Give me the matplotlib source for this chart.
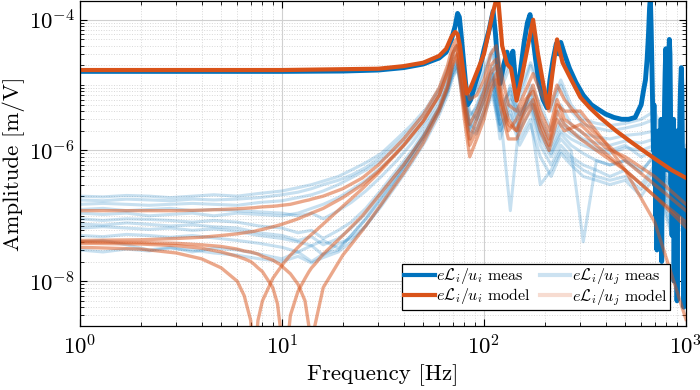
import numpy as np
import matplotlib
matplotlib.use("Agg")
import matplotlib.pyplot as plt
from matplotlib.lines import Line2D
from matplotlib.ticker import LogLocator, NullFormatter

plt.rcParams['font.family'] = 'serif'
plt.rcParams['font.serif'] = ['cmr10']
plt.rcParams['mathtext.fontset'] = 'cm'
plt.rcParams['axes.formatter.use_mathtext'] = True

BLUE = '#0072BD'
ORANGE = '#D95319'

# ---------------- data ----------------
# diagonal measured FRF  eL_i/u_i
diag_meas_f = [1, 2, 5, 10, 20, 30, 40, 50, 60, 65, 69, 72, 74, 75.5, 77, 79, 81, 83, 86, 90,
               95, 100, 106, 111, 114, 117, 120, 125, 130, 134, 139, 143, 147, 152, 158, 164,
               169, 174, 180, 188, 196, 205, 212, 220, 228, 234, 240, 250, 265, 285, 310, 340,
               370, 400, 440, 480, 520, 560, 600, 615, 630, 642, 652, 660, 666, 672, 678, 684,
               690, 694, 698, 703, 708, 713, 718, 723, 728, 733, 738, 743, 748, 753, 758, 763,
               768, 773, 778, 783, 788, 794, 800, 805, 810, 815, 820, 827, 833, 838, 843, 848,
               853, 858, 863, 868, 873, 878, 883, 888, 893, 898, 903, 908, 913, 918, 923, 928,
               933, 940, 948, 955, 960, 965, 970, 975, 980, 985, 990, 995, 1000]
diag_meas_a = [1.62e-5, 1.62e-5, 1.62e-5, 1.62e-5, 1.64e-5, 1.7e-5, 1.85e-5, 2.1e-5, 2.6e-5, 3.2e-5,
               5e-5, 8e-5, 1.25e-4, 1.1e-4, 6e-5, 2.5e-5, 1.1e-5, 5e-6, 6e-6, 1.0e-5,
               1.7e-5, 3.5e-5, 7e-5, 1.35e-4, 6e-5, 2e-5, 1.05e-5, 2e-5, 3.2e-5, 2e-5, 3.3e-5, 1.2e-5,
               8e-6, 1.8e-5, 4.5e-5, 9e-5, 1.2e-4, 6e-5, 2.5e-5, 1e-5, 6e-6, 4.5e-6, 1.2e-5,
               2.5e-5, 4.3e-5, 3e-5, 4.5e-5, 3e-5, 1.8e-5, 1.1e-5, 7e-6, 5e-6, 4.2e-6, 3.6e-6,
               3.2e-6, 3.0e-6, 3.0e-6, 3.2e-6, 5e-6, 8e-6, 1.2e-5, 2.5e-5, 6e-5, 1.5e-4, 2.2e-4,
               8e-5, 2e-5, 4e-6, 1e-6, 5e-6, 3e-7, 2e-6, 1e-7, 8e-7, 3e-8, 6e-7, 1e-7, 2e-6,
               4e-8, 1e-6, 2e-7, 3e-6, 2e-8, 7e-7, 1.5e-7, 2e-6, 5e-7, 5e-6, 1.5e-5, 3.6e-5,
               1.5e-5, 2e-6, 5e-7, 4e-6, 2e-5, 5e-5, 3e-5, 5e-6, 3e-7, 2e-6, 5e-8, 1e-6, 3e-7,
               3e-6, 1e-8, 5e-7, 2e-7, 2e-6, 1e-7, 5e-7, 5e-9, 4e-7, 1e-7, 2e-6, 3e-7, 1e-6,
               4e-6, 1e-5, 1.85e-5, 8e-6, 1e-6, 1e-7, 5e-7, 4e-9, 3e-7, 1e-6, 5e-8, 4e-7, 2e-7]

# diagonal model FRF
diag_model_f = [1, 10, 30, 40, 50, 60, 65, 69, 72, 74, 76, 79, 82, 85, 88, 95, 100, 105, 110,
                117, 123, 130, 136, 145, 155, 165, 175, 185, 197, 208, 218, 230, 245, 267, 300,
                334, 375, 450, 547, 700, 850, 1000]
diag_model_a = [1.7e-5, 1.7e-5, 1.78e-5, 1.95e-5, 2.2e-5, 2.8e-5, 3.6e-5, 5.5e-5, 6.5e-5, 6e-5,
                4e-5, 1.6e-5, 7.4e-6, 8.5e-6, 1.1e-5, 2e-5, 3e-5, 6e-5, 1.2e-4, 2.5e-4, 4e-5,
                2.1e-5, 1.8e-5, 5.8e-6, 1.5e-5, 4e-5, 1.0e-4, 3e-5, 1e-5, 4.5e-6, 1.5e-5, 5e-5,
                2.2e-5, 1.3e-5, 6.5e-6, 4.5e-6, 3.2e-6, 2e-6, 1.28e-6, 7.5e-7, 5e-7, 3.8e-7]

# off-diagonal measured FRFs eL_i/u_j (common frequency vector)
off_meas_f = [1, 1.3, 1.7, 2.2, 2.8, 3.6, 4.6, 6, 7.7, 10, 12, 14, 16, 19, 22, 26, 31, 37, 44, 52,
              60, 66, 70, 74, 79, 85, 92, 100, 110, 120, 135, 150, 170, 190, 215, 240, 270, 310,
              360, 420, 500, 600, 700, 850, 1000]
off_meas_1 = [1.75e-7, 1.7e-7, 1.8e-7, 1.75e-7, 1.7e-7, 1.8e-7, 1.75e-7, 1.8e-7, 1.9e-7, 2.1e-7,
              2.3e-7, 2.6e-7, 3.0e-7, 3.5e-7, 4.2e-7, 5.5e-7, 8e-7, 1.3e-6, 2.2e-6, 4e-6,
              8e-6, 1.6e-5, 3e-5, 4e-5, 1.5e-5, 6e-6, 8e-6, 1.5e-5, 3e-5, 8e-6, 2e-5, 6e-6,
              2e-5, 8e-6, 4e-6, 1e-5, 4e-6, 2.5e-6, 2.2e-6, 2e-6, 2.2e-6, 2.5e-6, 3e-6, 6e-7, 1e-6]
off_meas_2 = [1.5e-7, 1.55e-7, 1.5e-7, 1.45e-7, 1.5e-7, 1.55e-7, 1.5e-7, 1.45e-7, 1.6e-7, 1.7e-7,
              1.9e-7, 2.1e-7, 2.4e-7, 3.0e-7, 3.8e-7, 5e-7, 7e-7, 1.1e-6, 1.9e-6, 3.5e-6,
              7e-6, 1.3e-5, 2.5e-5, 3e-5, 1.2e-5, 4e-6, 3e-6, 6e-6, 1.5e-5, 5e-6, 8e-6, 2e-6,
              1e-5, 5e-6, 2e-6, 5e-6, 2.5e-6, 1.8e-6, 1.6e-6, 1.5e-6, 1.7e-6, 1.8e-6, 2e-6, 3e-7, 5e-7]
off_meas_3 = [1.1e-7, 1.05e-7, 1.1e-7, 1.0e-7, 1.05e-7, 1.1e-7, 1.0e-7, 1.1e-7, 1.05e-7, 1.0e-7,
              1.1e-7, 1.3e-7, 1.5e-7, 1.9e-7, 2.5e-7, 3.5e-7, 5.5e-7, 9e-7, 1.6e-6, 3e-6,
              6e-6, 1.1e-5, 2e-5, 2.5e-5, 8e-6, 3e-6, 5e-6, 1e-5, 2e-5, 4e-6, 1.2e-7, 3e-6,
              8e-6, 3e-6, 1.5e-6, 3e-6, 2e-6, 1.5e-6, 1.3e-6, 1.2e-6, 1.4e-6, 1.3e-6, 1.5e-6, 2e-7, 3e-7]
off_meas_4 = [9e-8, 8.5e-8, 9e-8, 8.8e-8, 8.5e-8, 8e-8, 8.5e-8, 8e-8, 7e-8, 6.5e-8,
              5.5e-8, 6e-8, 4.5e-8, 6e-8, 8e-8, 1.3e-7, 2.5e-7, 5e-7, 1e-6, 2.2e-6,
              4.5e-6, 9e-6, 1.8e-5, 2.2e-5, 7e-6, 2.5e-6, 4e-6, 8e-6, 1.5e-5, 3e-6, 1e-5, 4e-6,
              6e-6, 2e-6, 1e-6, 2e-6, 1.5e-6, 1.2e-6, 1e-6, 9e-7, 1.1e-6, 1e-6, 1.2e-6, 1.5e-7, 2e-7]
off_meas_5 = [6.5e-8, 6.8e-8, 6.5e-8, 6.2e-8, 6.5e-8, 6e-8, 6.3e-8, 5.8e-8, 5e-8, 4.5e-8,
              4e-8, 3.5e-8, 4.2e-8, 3.2e-8, 5e-8, 9e-8, 1.8e-7, 3.8e-7, 8e-7, 1.8e-6,
              4e-6, 8e-6, 1.5e-5, 2e-5, 6e-6, 2e-6, 3e-6, 6e-6, 1.2e-5, 2e-6, 6e-6, 3e-6,
              5e-6, 1.5e-6, 8e-7, 1.5e-6, 1e-6, 4e-8, 7e-7, 6e-7, 7e-7, 5e-7, 8e-7, 1e-7, 1.5e-7]
off_meas_6 = [5e-8, 4.8e-8, 5.2e-8, 5e-8, 4.7e-8, 5e-8, 4.6e-8, 4.2e-8, 3.8e-8, 3.3e-8,
              2.8e-8, 3.5e-8, 2.5e-8, 3.8e-8, 4.5e-8, 7e-8, 1.4e-7, 3e-7, 6.5e-7, 1.5e-6,
              3.5e-6, 7e-6, 1.3e-5, 1.8e-5, 5e-6, 1.5e-6, 2.5e-6, 5e-6, 1e-5, 1.5e-6, 5e-6, 2e-6,
              4e-6, 1.2e-6, 6e-7, 1.2e-6, 8e-7, 6e-7, 5e-7, 4e-7, 5e-7, 3e-7, 6e-7, 8e-8, 1e-7]
off_meas_7 = [4e-8, 4.2e-8, 3.6e-8, 3e-8, 3.3e-8, 2.8e-8, 3.2e-8, 3e-8, 2.6e-8, 2.2e-8,
              2.8e-8, 2e-8, 2.6e-8, 3e-8, 5e-8, 9e-8, 1.9e-7, 4e-7, 9e-7, 2e-6,
              4.5e-6, 9e-6, 1.6e-5, 2e-5, 7e-6, 2.5e-6, 2e-6, 4e-6, 8e-6, 2.5e-6, 4e-6, 1.5e-6,
              3e-6, 3e-7, 5e-7, 1e-6, 7e-7, 5e-7, 4e-7, 3.5e-7, 4e-7, 2.5e-7, 5e-7, 6e-8, 8e-8]
off_meas_8 = [3e-8, 2.8e-8, 3.1e-8, 2.9e-8, 3.2e-8, 3e-8, 2.7e-8, 2.5e-8, 2.2e-8, 2e-8,
              2.4e-8, 1.9e-8, 2.3e-8, 2.8e-8, 4e-8, 7e-8, 1.5e-7, 3.5e-7, 8e-7, 1.8e-6,
              4e-6, 8e-6, 1.4e-5, 1.8e-5, 6e-6, 2e-6, 1.8e-6, 3.5e-6, 7e-6, 2e-6, 3.5e-6, 1.2e-6,
              2.5e-6, 8e-7, 4e-7, 9e-7, 6e-7, 4e-7, 3.5e-7, 3e-7, 3.5e-7, 2e-7, 4e-7, 5e-8, 7e-8]
off_meas_9 = [2e-7, 1.95e-7, 2.05e-7, 2e-7, 1.9e-7, 2e-7, 2.1e-7, 2e-7, 2.2e-7, 2.4e-7,
              2.7e-7, 3e-7, 3.4e-7, 4e-7, 5e-7, 6.5e-7, 9e-7, 1.5e-6, 2.5e-6, 4.5e-6,
              9e-6, 1.8e-5, 3.2e-5, 4.2e-5, 1.6e-5, 7e-6, 9e-6, 1.8e-5, 3.5e-5, 1e-5, 2.5e-5, 8e-6,
              2.2e-5, 1e-5, 5e-6, 1.2e-5, 5e-6, 3e-6, 2.6e-6, 2.4e-6, 2.6e-6, 3e-6, 4e-6, 8e-7, 1.2e-6]
off_meas_10 = [1.25e-7, 1.3e-7, 1.2e-7, 1.25e-7, 1.3e-7, 1.2e-7, 1.25e-7, 1.2e-7, 1.15e-7, 1.1e-7,
               1e-7, 1.1e-7, 9e-8, 1.2e-7, 1.6e-7, 2.4e-7, 4e-7, 7e-7, 1.3e-6, 2.6e-6,
               5e-6, 1e-5, 1.9e-5, 2.4e-5, 9e-6, 3.5e-6, 4.5e-6, 9e-6, 1.8e-5, 3.5e-6, 9e-6, 3.5e-6,
               7e-6, 2.5e-6, 1.2e-6, 2.5e-6, 1.8e-6, 1.4e-6, 1.1e-6, 1e-6, 1.2e-6, 8e-7, 1e-6, 2.5e-7, 4e-7]
off_meas_11 = [7.5e-8, 7.2e-8, 7.8e-8, 7.4e-8, 7e-8, 7.3e-8, 6.8e-8, 6.5e-8, 5.5e-8, 5e-8,
               4.2e-8, 4.8e-8, 3.6e-8, 4.5e-8, 6.5e-8, 1.1e-7, 2.2e-7, 4.5e-7, 9e-7, 2e-6,
               4.2e-6, 8.5e-6, 1.7e-5, 2.1e-5, 6.5e-6, 2.2e-6, 3.5e-6, 7e-6, 1.3e-5, 2.5e-6, 7e-6, 3.5e-6,
               5.5e-6, 1.8e-6, 9e-7, 1.8e-6, 1.2e-6, 9e-7, 7e-7, 6e-7, 7e-7, 4.5e-7, 9e-7, 1.2e-7, 1.8e-7]

# off-diagonal model FRFs (common frequency vector)
off_model_f = [1, 2, 3, 4, 5, 6, 6.5, 7, 7.3, 7.6, 8, 9, 9.5, 9.8, 10.2, 11, 12, 13, 13.6, 14,
               14.5, 16, 20, 25, 30, 40, 50, 60, 66, 70, 73, 76, 80, 85, 92, 100, 108, 115, 122,
               132, 145, 160, 175, 190, 210, 230, 250, 300, 400, 500, 700, 1000]
off_model_1 = [1.2e-7, 1.2e-7, 1.2e-7, 1.22e-7, 1.25e-7, 1.28e-7, 1.3e-7, 1.32e-7, 1.33e-7, 1.35e-7,
               1.37e-7, 1.4e-7, 1.42e-7, 1.44e-7, 1.46e-7, 1.5e-7, 1.6e-7, 1.7e-7, 1.75e-7, 1.8e-7,
               1.85e-7, 2.0e-7, 2.6e-7, 3.8e-7, 6e-7, 1.5e-6, 3.5e-6, 9e-6, 2e-5, 4e-5, 5e-5, 3e-5,
               1.2e-5, 6e-6, 7e-6, 1.2e-5, 3e-5, 4e-5, 1.5e-5, 5e-6, 4e-6, 8e-6, 1.5e-5, 8e-6,
               4e-6, 1e-5, 6e-6, 3e-6, 1.3e-6, 7e-7, 3e-7, 1.2e-7]
off_model_2 = [4.2e-8, 4.3e-8, 4.5e-8, 4.7e-8, 5e-8, 5.3e-8, 5.5e-8, 5.7e-8, 5.8e-8, 6e-8,
               6.2e-8, 6.8e-8, 7.1e-8, 7.3e-8, 7.6e-8, 8.2e-8, 9e-8, 1e-7, 1.05e-7, 1.1e-7,
               1.15e-7, 1.3e-7, 1.9e-7, 3e-7, 4.8e-7, 1.2e-6, 2.8e-6, 7e-6, 1.6e-5, 3e-5, 4e-5, 2e-5,
               6e-6, 2.5e-6, 4e-6, 8e-6, 2e-5, 2.5e-5, 8e-6, 3e-6, 2e-6, 5e-6, 1e-5, 4e-6,
               2e-6, 6e-6, 3e-6, 2e-6, 9e-7, 5e-7, 2e-7, 6.7e-8]
off_model_3 = [3.3e-8, 3.1e-8, 2.7e-8, 2.2e-8, 1.6e-8, 1e-8, 6e-9, 2.5e-9, 5e-10, 2.5e-9,
               5e-9, 1.1e-8, 1.4e-8, 1.6e-8, 1.9e-8, 2.5e-8, 3.3e-8, 4.2e-8, 4.8e-8, 5.2e-8,
               5.7e-8, 7.5e-8, 1.4e-7, 2.6e-7, 4.5e-7, 1.2e-6, 2.8e-6, 7e-6, 1.5e-5, 3e-5, 4e-5, 2e-5,
               5e-6, 1.5e-6, 3e-6, 6e-6, 1.5e-5, 2e-5, 6e-6, 2e-6, 3e-6, 6e-6, 8e-6, 3e-6,
               1.5e-6, 5e-6, 4e-6, 4e-6, 1.3e-6, 5e-7, 8e-8, 2.6e-9]
off_model_4 = [3.8e-8, 3.7e-8, 3.5e-8, 3.2e-8, 2.8e-8, 2.4e-8, 2.2e-8, 2e-8, 1.8e-8, 1.6e-8,
               1.4e-8, 8e-9, 4.5e-9, 2e-9, 3e-10, 3e-9, 7e-9, 1.1e-8, 1.4e-8, 1.6e-8,
               1.8e-8, 2.6e-8, 5e-8, 1e-7, 2e-7, 6e-7, 1.6e-6, 4.5e-6, 1e-5, 2.2e-5, 3e-5, 1.5e-5,
               4e-6, 1.2e-6, 2e-6, 4e-6, 1e-5, 1.5e-5, 5e-6, 2.5e-6, 2e-6, 4e-6, 6e-6, 2.5e-6,
               1.2e-6, 4e-6, 2.5e-6, 1.5e-6, 8e-7, 5e-7, 2e-7, 8e-8]
off_model_5 = [4e-8, 3.9e-8, 3.8e-8, 3.6e-8, 3.4e-8, 3.1e-8, 2.9e-8, 2.8e-8, 2.7e-8, 2.6e-8,
               2.4e-8, 2.1e-8, 1.9e-8, 1.8e-8, 1.6e-8, 1.3e-8, 9e-9, 5e-9, 2e-9, 3e-10,
               2e-9, 8e-9, 2.5e-8, 6e-8, 1.3e-7, 4.5e-7, 1.3e-6, 4e-6, 9e-6, 2e-5, 2.8e-5, 1.2e-5,
               3e-6, 8e-7, 1.5e-6, 3e-6, 8e-6, 1.2e-5, 4e-6, 1.5e-6, 1.5e-6, 3e-6, 5e-6, 2e-6,
               1e-6, 3e-6, 2e-6, 2.5e-6, 1.1e-6, 8e-7, 4e-7, 1.5e-7]

y_major_ticks = [1e-8, 1e-6, 1e-4]
legend_labels = [r'$e\mathcal{L}_i/u_i$ meas', r'$e\mathcal{L}_i/u_i$ model',
                 r'$e\mathcal{L}_i/u_j$ meas', r'$e\mathcal{L}_i/u_j$ model']

# ---------------- figure ----------------
fig = plt.figure(figsize=(7.0, 3.9), dpi=100)
ax = fig.add_axes([0.1143, 0.164, 0.8657, 0.834])

for a in [off_meas_1, off_meas_2, off_meas_3, off_meas_4, off_meas_5, off_meas_6, off_meas_7,
          off_meas_8, off_meas_9, off_meas_10, off_meas_11]:
    ax.plot(off_meas_f, a, color=BLUE, alpha=0.22, lw=2.2)
ax.plot(diag_meas_f, diag_meas_a, color=BLUE, lw=3.5)
for a in [off_model_1, off_model_2, off_model_3, off_model_4, off_model_5]:
    ax.plot(off_model_f, a, color=ORANGE, alpha=0.5, lw=2.4)
ax.plot(diag_model_f, diag_model_a, color=ORANGE, lw=3.0)

ax.set_xscale('log')
ax.set_yscale('log')
ax.set_xlim(1, 1000)
ax.set_ylim(2.06e-9, 1.95e-4)
ax.set_yticks(y_major_ticks)
ax.yaxis.set_minor_locator(LogLocator(base=10, subs=np.arange(1, 10), numticks=50))
ax.yaxis.set_minor_formatter(NullFormatter())
ax.xaxis.set_minor_locator(LogLocator(base=10, subs=np.arange(2, 10), numticks=50))
ax.xaxis.set_minor_formatter(NullFormatter())

ax.grid(True, which='major', color='#d0d0d0', lw=0.8, ls='-')
ax.grid(True, which='minor', color='#d8d8d8', lw=0.7, ls=':')
ax.set_axisbelow(True)
ax.tick_params(which='both', direction='in', top=True, right=True, labelsize=16.5)
ax.tick_params(which='major', length=5, width=0.8)
ax.tick_params(which='minor', length=3, width=0.6)
ax.tick_params(axis='x', pad=6)
for s in ax.spines.values():
    s.set_linewidth(0.9)

ax.set_xlabel('Frequency [Hz]', fontsize=16.5)
ax.set_ylabel('Amplitude [m/V]', fontsize=16.5, labelpad=3)

handles = [Line2D([], [], color=BLUE, lw=3),
           Line2D([], [], color=ORANGE, lw=3),
           Line2D([], [], color=BLUE, lw=3, alpha=0.2),
           Line2D([], [], color=ORANGE, lw=3, alpha=0.2)]
leg = ax.legend(handles, legend_labels, ncol=2, loc='lower right',
                bbox_to_anchor=(0.9736, 0.049), borderaxespad=0, fontsize=11.5,
                fancybox=False, framealpha=1, edgecolor='black', handlelength=1.9,
                handletextpad=0.12, columnspacing=0.55, labelspacing=0.0, borderpad=0.15)
leg.get_frame().set_linewidth(0.9)

fig.savefig('out.png', dpi=100)
